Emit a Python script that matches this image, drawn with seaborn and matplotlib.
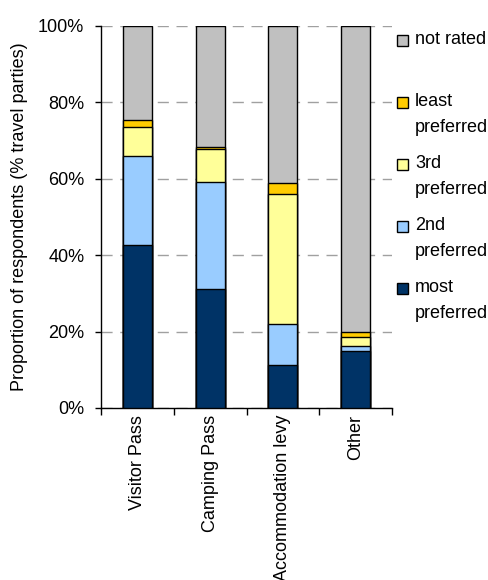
import numpy as np
import pandas as pd
import matplotlib
matplotlib.use("Agg")
import matplotlib.pyplot as plt
from matplotlib.patches import Rectangle
from matplotlib.ticker import FixedLocator, FuncFormatter
import seaborn as sns

# Payment options and the share of travel parties ranking each one (%)
options = ["Visitor Pass", "Camping Pass", "Accommodation levy", "Other"]
most_preferred = [42.7, 31.1, 11.3, 14.9]
second_preferred = [23.2, 28.1, 10.6, 1.4]
third_preferred = [7.6, 8.5, 34.0, 2.3]
least_preferred = [1.9, 0.7, 3.0, 1.4]
not_rated = [24.6, 31.6, 41.1, 80.0]

series_names = ["most\npreferred", "2nd\npreferred", "3rd\npreferred",
                "least\npreferred", "not rated"]
series_values = [most_preferred, second_preferred, third_preferred,
                 least_preferred, not_rated]
series_colors = ["#003366", "#99CCFF", "#FFFF99", "#FFCC00", "#C0C0C0"]

FS = 13

sns.set_theme(style="white")
plt.rcParams["font.family"] = ["Liberation Sans", "DejaVu Sans"]
plt.rcParams["font.size"] = FS

fig = plt.figure(figsize=(4.88, 5.8), dpi=100)
W, H = 488, 580
ax = fig.add_axes([101 / W, (H - 408) / H, 291 / W, 382 / H])

# Stack by drawing cumulative totals from the top segment down
cum = np.cumsum(np.array(series_values), axis=0)
for i in range(len(series_values) - 1, -1, -1):
    df = pd.DataFrame({"option": options, "value": cum[i]})
    sns.barplot(data=df, x="option", y="value", color=series_colors[i],
                saturation=1, width=0.4, edgecolor="black", linewidth=1.0,
                ax=ax, zorder=3)

ax.set_xlim(-0.5, len(options) - 0.5)
ax.set_ylim(0, 100)
ax.set_yticks([0, 20, 40, 60, 80, 100])
ax.yaxis.set_major_formatter(FuncFormatter(lambda v, p: f"{v:.0f}%"))
ax.yaxis.grid(True, color="#A0A0A0", linestyle=(0, (8, 5.5)), linewidth=1.0, zorder=0)
ax.xaxis.grid(False)
ax.set_axisbelow(True)

# Category labels centred, tick marks on the category boundaries
ax.set_xticks(range(len(options)))
ax.set_xticklabels(options, rotation=90, va="top", ha="center")
ax.xaxis.set_minor_locator(FixedLocator(np.arange(-0.5, len(options), 1.0)))
ax.tick_params(axis="x", which="major", length=0, pad=5, labelsize=FS, colors="black")
ax.tick_params(axis="x", which="minor", length=5, width=1, direction="out",
               bottom=True, color="black")
ax.tick_params(axis="y", which="major", length=4, width=1, direction="out",
               left=True, pad=8, labelsize=FS, colors="black")

for side in ["top", "right"]:
    ax.spines[side].set_visible(False)
for side in ["left", "bottom"]:
    ax.spines[side].set_color("black")
    ax.spines[side].set_linewidth(1.0)

ax.set_xlabel("")
ax.set_ylabel("Proportion of respondents (% travel parties)", fontsize=FS, color="black")
ax.yaxis.set_label_coords((28 - 101) / 291, 0.5)

# Legend, top entry first
legend_order = [4, 3, 2, 1, 0]
for k, idx in enumerate(legend_order):
    yc = 40 + 62 * k
    fig.add_artist(Rectangle((397 / W, 1 - (yc + 6) / H), 11 / W, 11 / H,
                             facecolor=series_colors[idx], edgecolor="black",
                             linewidth=1.0, transform=fig.transFigure))
    lines = series_names[idx].split("\n")
    for j, line in enumerate(lines):
        fig.text(415 / W, 1 - (yc + 26 * j) / H, line, fontsize=FS,
                 va="center", ha="left", color="black")

fig.savefig("out.png", dpi=100)
